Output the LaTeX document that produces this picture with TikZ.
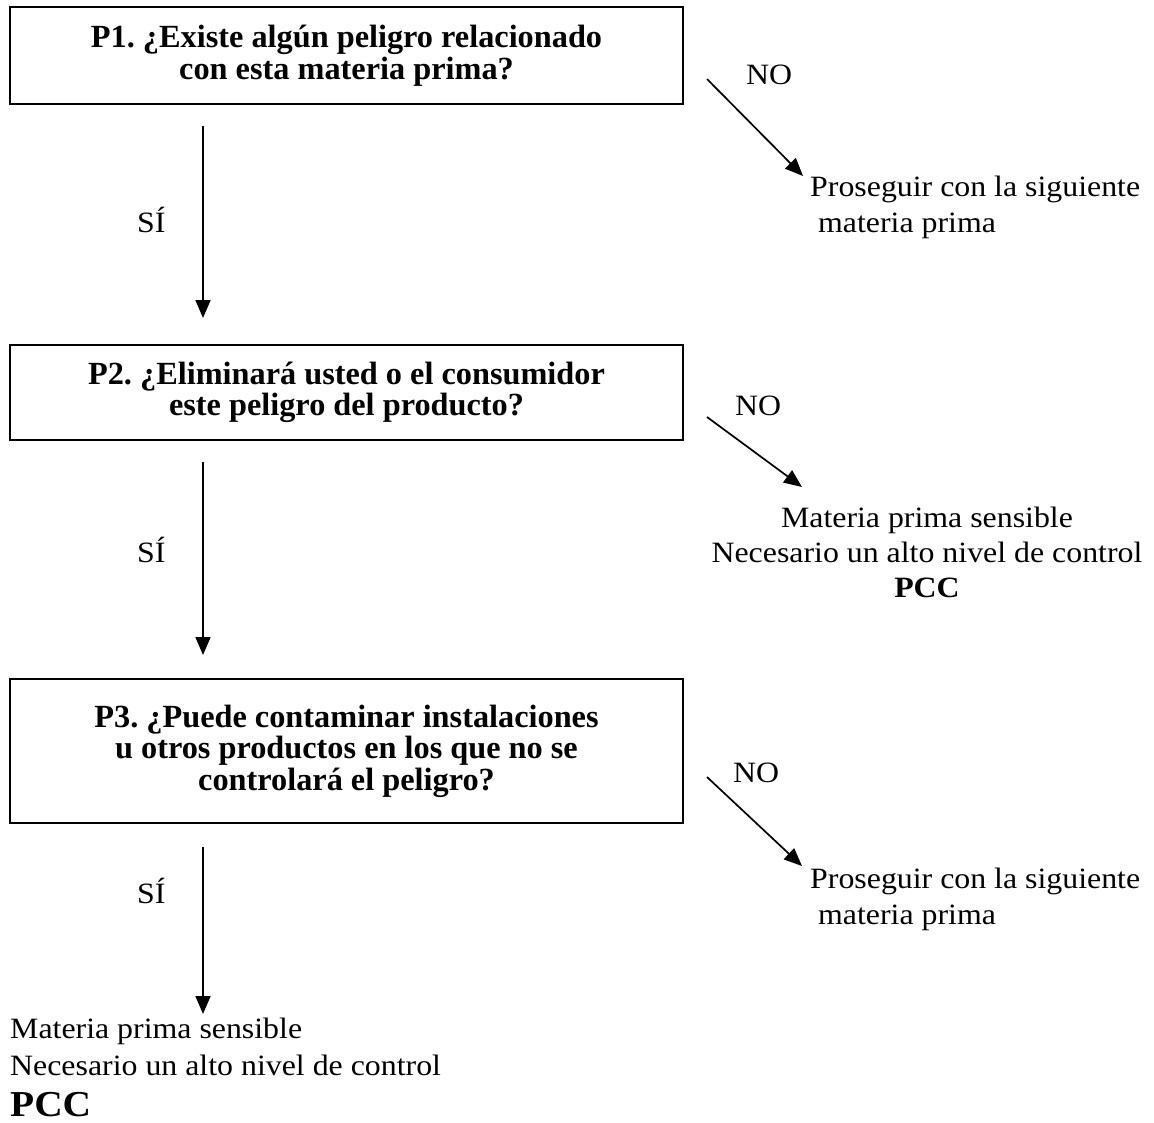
\documentclass[tikz,border=0pt]{standalone}
\usepackage{fontspec}
\setmainfont{Liberation Serif}[FakeStretch=1.08]
\newfontfamily\qfont{Liberation Serif}
\usetikzlibrary{arrows.meta}
\frenchspacing
\begin{document}
\begin{tikzpicture}[x=1pt,y=-1pt,
  qbox/.style={draw, line width=1.8pt, minimum width=673pt, inner sep=0pt, align=center,
               font=\qfont\bfseries\fontsize{32.3}{31.5}\selectfont},
  flow/.style={line width=1.7pt, -{Triangle[length=18pt,width=15pt]}},
  lbl/.style={font=\fontsize{29.5}{36}\selectfont, inner sep=0pt},
]
\useasboundingbox (0,0) rectangle (1154,1122);

% question boxes
\node[qbox, minimum height=97pt]  (p1) at (346.5,55.5)  {P1. ¿Existe algún peligro relacionado\\con esta materia prima?};
\node[qbox, minimum height=95pt]  (p2) at (346.5,392.5) {P2. ¿Eliminará usted o el consumidor\\este peligro del producto?};
\node[qbox, minimum height=144pt] (p3) at (346.5,751)   {P3. ¿Puede contaminar instalaciones\\u otros productos en los que no se\\controlará el peligro?};

% vertical YES arrows
\coordinate (y1s) at (203,126);  \coordinate (y1e) at (203,318);
\coordinate (y2s) at (203,462);  \coordinate (y2e) at (203,655);
\coordinate (y3s) at (203,847);  \coordinate (y3e) at (203,1014);
\draw[flow] (y1s) -- (y1e);
\draw[flow] (y2s) -- (y2e);
\draw[flow] (y3s) -- (y3e);
\node[lbl, anchor=base west] (si1) at (137,232) {SÍ};
\node[lbl, anchor=base west] (si2) at (137,562) {SÍ};
\node[lbl, anchor=base west] (si3) at (137,903) {SÍ};

% diagonal NO arrows
\coordinate (n1s) at (707,79);   \coordinate (n1e) at (803,176);
\coordinate (n2s) at (707,417);  \coordinate (n2e) at (802,487);
\coordinate (n3s) at (707,777);  \coordinate (n3e) at (802,866);
\draw[flow] (n1s) -- (n1e);
\draw[flow] (n2s) -- (n2e);
\draw[flow] (n3s) -- (n3e);
\node[lbl, anchor=base west] (no1) at (746,84)  {NO};
\node[lbl, anchor=base west] (no2) at (735,415) {NO};
\node[lbl, anchor=base west] (no3) at (733,782) {NO};

% outcomes (anchored at the baseline of their last line)
\node[lbl, anchor=base west, align=left] (r1) at (810,232) {Proseguir con la siguiente\\\ materia prima};
\node[lbl, anchor=base, align=center, font=\fontsize{29.5}{35}\selectfont] (r2) at (927,597) {Materia prima sensible\\Necesario un alto nivel de control\\\textbf{PCC}};
\node[lbl, anchor=base west, align=left] (r3) at (810,924) {Proseguir con la siguiente\\\ materia prima};
\node[lbl, anchor=base west, align=left, font=\fontsize{29.5}{37}\selectfont] (r4) at (10,1116) {Materia prima sensible\\Necesario un alto nivel de control\\[4pt]{\bfseries\fontsize{36.5}{37}\selectfont PCC}};
\end{tikzpicture}
\end{document}
